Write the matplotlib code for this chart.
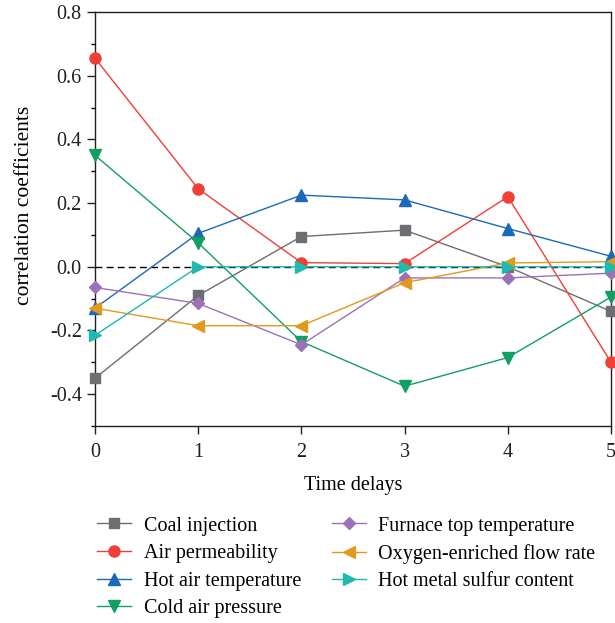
import matplotlib.pyplot as plt
from matplotlib.ticker import MultipleLocator

plt.rcParams["font.family"] = ["Liberation Serif", "DejaVu Serif"]

delays = [0, 1, 2, 3, 4, 5]
coal_injection = [-0.35, -0.09, 0.095, 0.115, 0.0, -0.14]
air_permeability = [0.655, 0.245, 0.013, 0.01, 0.22, -0.30]
hot_air_temp = [-0.13, 0.105, 0.225, 0.21, 0.12, 0.033]
cold_air_pressure = [0.35, 0.075, -0.235, -0.375, -0.285, -0.095]
furnace_top_temp = [-0.065, -0.115, -0.245, -0.035, -0.035, -0.02]
oxygen_flow = [-0.13, -0.185, -0.185, -0.05, 0.012, 0.016]
sulfur_content = [-0.215, 0.0, 0.0, 0.0, 0.0, 0.0]

series = [
    ("Coal injection", coal_injection, "s", "#6d6e71"),
    ("Air permeability", air_permeability, "o", "#ee4036"),
    ("Hot air temperature", hot_air_temp, "^", "#1b6ab8"),
    ("Cold air pressure", cold_air_pressure, "v", "#10a064"),
    ("Furnace top temperature", furnace_top_temp, "D", "#9b72b5"),
    ("Oxygen-enriched flow rate", oxygen_flow, "<", "#e09a1d"),
    ("Hot metal sulfur content", sulfur_content, ">", "#1fb9b0"),
]
sizes = {"s": 6.5, "o": 8, "^": 8, "v": 8, "D": 6, "<": 8, ">": 8}

fig = plt.figure(figsize=(6.15, 6.23), dpi=100)
ax = fig.add_axes([0.1545, 0.3162, 0.839, 0.6645])

ax.axhline(0, color="black", linestyle=(0, (5, 3)), linewidth=1.0, zorder=1)
for name, vals, m, c in series:
    ax.plot(delays, vals, marker=m, color=c, linewidth=1.0, markersize=sizes[m],
            label=name, clip_on=False, zorder=3)

ax.set_xlim(0, 5)
ax.set_ylim(-0.5, 0.8)
ax.yaxis.set_minor_locator(MultipleLocator(0.1))
ax.set_yticks([-0.4, -0.2, 0.0, 0.2, 0.4, 0.6, 0.8])
ax.set_yticklabels(["-0.4", "-0.2", "0.0", "0.2", "0.4", "0.6", "0.8"])
ax.tick_params(axis="both", which="major", direction="out", length=6, width=1,
               labelsize=14.5, colors="#231f20")
ax.tick_params(axis="x", which="major", pad=6)
ax.tick_params(axis="y", which="minor", direction="out", length=3, width=1)
for s in ax.spines.values():
    s.set_linewidth(1.0)
    s.set_color("#231f20")

ax.set_xlabel("Time delays", fontsize=14.5, labelpad=10)
ax.set_ylabel("correlation coefficients", fontsize=15.5)
ax.yaxis.set_label_coords(-0.118, 0.534)

fig.legend(loc="upper left", bbox_to_anchor=(0.145, 0.184), ncol=2,
           frameon=False, fontsize=14.5, handlelength=1.7, handletextpad=0.6,
           columnspacing=1.55, labelspacing=0.42, borderaxespad=0)

fig.savefig("out.png", dpi=100)
